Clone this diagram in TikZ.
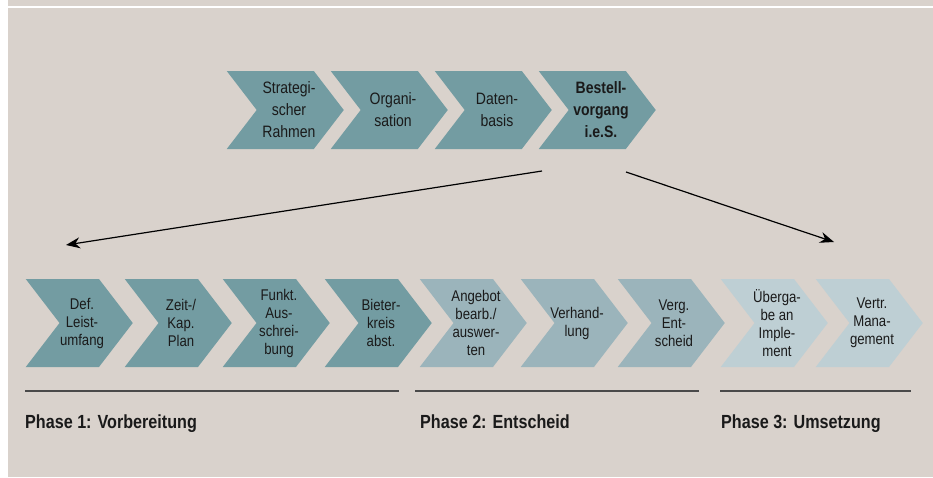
\documentclass[tikz,border=0pt]{standalone}
\usepackage{fontspec}
\setmainfont{Liberation Sans}[FakeStretch=0.85]
\usetikzlibrary{arrows.meta,shapes.symbols}

\definecolor{paper}{HTML}{D9D2CC}
\definecolor{tealdark}{HTML}{739CA2}
\definecolor{tealmid}{HTML}{9BB4BB}
\definecolor{teallight}{HTML}{BECFD4}
\definecolor{ink}{HTML}{1A1A1A}
\definecolor{rulegray}{HTML}{4A4A4A}

\tikzset{
  chevron/.style={signal, signal to=east, signal from=west, signal pointer angle=105, inner sep=0pt, draw=none, anchor=east},
  topchev/.style={chevron, minimum width=117pt, minimum height=78pt},
  botchev/.style={chevron, minimum width=107pt, minimum height=88pt},
  toptxt/.style={align=center, inner sep=0pt, text=ink, anchor=center, xshift=-55pt, font=\fontsize{16.5}{22}\selectfont},
  toptxtb/.style={toptxt, font=\bfseries\fontsize{16.5}{22}\selectfont},
  bottxt/.style={align=center, inner sep=0pt, text=ink, anchor=center, xshift=-51pt, font=\fontsize{15.5}{18}\selectfont},
  phase/.style={anchor=base west, inner sep=0pt, text=ink, font=\bfseries\fontsize{19}{22}\selectfont},
  rule/.style={draw=rulegray, line width=1.3pt},
  arr/.style={-{Stealth[length=14pt,width=11pt]}, line width=1.2pt}
}

\begin{document}
\begin{tikzpicture}[x=1pt, y=-1pt]
    \useasboundingbox (0,0) rectangle (933,477);
    \fill[white] (0,0) rectangle (933,477);
    \fill[paper] (8,0) rectangle (933,6.3);
    \fill[paper] (8,8.3) rectangle (933,477);

    % Upper row
    \node[topchev, fill=tealdark, label={[toptxt]east:Strategi-\\scher\\Rahmen}] (strat) at (344,110) {};
    \node[topchev, fill=tealdark, label={[toptxt]east:Organi-\\sation}] (orga) at (448,110) {};
    \node[topchev, fill=tealdark, label={[toptxt]east:Daten-\\basis}] (daten) at (552,110) {};
    \node[topchev, fill=tealdark, label={[toptxtb]east:Bestell-\\vorgang\\i.e.S.}] (bestell) at (656,110) {};

    % Lower row
    \node[botchev, fill=tealdark, label={[bottxt]east:Def.\\Leist-\\umfang}] (leist) at (133,323) {};
    \node[botchev, fill=tealdark, label={[bottxt]east:Zeit-/\\Kap.\\Plan}] (plan) at (232,323) {};
    \node[botchev, fill=tealdark, label={[bottxt]east:Funkt.\\Aus-\\schrei-\\bung}] (aus) at (330,323) {};
    \node[botchev, fill=tealdark, label={[bottxt]east:Bieter-\\kreis\\abst.}] (bieter) at (432,323) {};
    \node[botchev, fill=tealmid, label={[bottxt]east:Angebot\\bearb./\\auswer-\\ten}] (angebot) at (527,323) {};
    \node[botchev, fill=tealmid, label={[bottxt]east:Verhand-\\lung}] (verh) at (628,323) {};
    \node[botchev, fill=tealmid, label={[bottxt]east:Verg.\\Ent-\\scheid}] (verg) at (725,323) {};
    \node[botchev, fill=teallight, label={[bottxt]east:Überga-\\be an\\Imple-\\ment}] (ueber) at (828,323) {};
    \node[botchev, fill=teallight, label={[bottxt]east:Vertr.\\Mana-\\gement}] (vertr) at (923,323) {};

    % Arrows
    \coordinate (from1) at (542,171);
    \coordinate (to1) at (66,245);
    \coordinate (from2) at (626,172);
    \coordinate (to2) at (834,242);
    \draw[arr] (from1) -- (to1);
    \draw[arr] (from2) -- (to2);

    % Phases
    \draw[rule] (25,391) -- (399,391);
    \draw[rule] (415,391) -- (699,391);
    \draw[rule] (720,391) -- (911,391);
    \node[phase] (ph1) at (25,428) {Phase 1: Vorbereitung};
    \node[phase] (ph2) at (420,428) {Phase 2: Entscheid};
    \node[phase] (ph3) at (721,428) {Phase 3: Umsetzung};
\end{tikzpicture}
\end{document}
